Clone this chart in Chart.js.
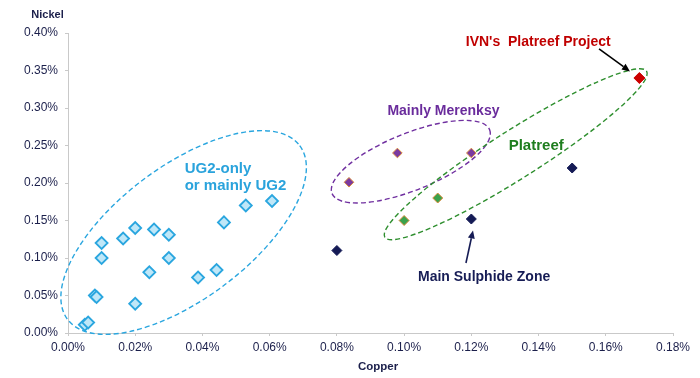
<!DOCTYPE html>
<html>
<head>
<meta charset="utf-8">
<script src="https://cdn.jsdelivr.net/npm/chart.js@4.4.1/dist/chart.umd.min.js"></script>
<style>
  html, body { margin: 0; padding: 0; background: #ffffff; }
  #wrap { width: 700px; height: 378px; }
</style>
</head>
<body>
<div id="wrap"><canvas id="c" width="700" height="378"></canvas></div>
<script>
// ---- Data (copper % on x, nickel % on y) ----
const ug2Cu = [0.005, 0.006, 0.008, 0.0085, 0.010, 0.010, 0.0164, 0.020, 0.020, 0.0256, 0.0242, 0.030, 0.030, 0.0387, 0.0442, 0.0464, 0.0529, 0.0607];
const ug2Ni = [0.011, 0.014, 0.050, 0.048, 0.120, 0.100, 0.126, 0.140, 0.039, 0.138, 0.081, 0.131, 0.100, 0.074, 0.084, 0.1475, 0.170, 0.176];
const merenskyCu = [0.0836, 0.098, 0.120];
const merenskyNi = [0.201, 0.240, 0.240];
const platreefCu = [0.100, 0.110];
const platreefNi = [0.150, 0.180];
const mszCu = [0.080, 0.120, 0.150];
const mszNi = [0.110, 0.152, 0.220];
const ivnCu = [0.170];
const ivnNi = [0.340];

const xTicksMin = 0, xTicksMax = 0.18, xStep = 0.02;
const yTicksMin = 0, yTicksMax = 0.40, yStep = 0.05;

const axisTitleX = "Copper";
const axisTitleY = "Nickel";

// ---- Annotation configuration (data coordinates for anchors) ----
const FONT = "'Liberation Sans', Arial, Helvetica, sans-serif";
const ellipses = [
  { cu: 0.0344, ni: 0.1340, a: 145, b: 66.5, angle: -36.8, color: '#2aa6df' },
  { cu: 0.1020, ni: 0.2284, a: 85, b: 28.4, angle: -22, color: '#7030a0' },
  { cu: 0.1332, ni: 0.2384, a: 155, b: 24, angle: -32.4, color: '#2f8f2f' }
];
const labels = [
  { text: 'UG2-only', cu: 0.0347, ni: 0.2191, align: 'left', size: 15, color: '#2aa3dc' },
  { text: 'or mainly UG2', cu: 0.0347, ni: 0.1968, align: 'left', size: 15, color: '#2aa3dc' },
  { text: 'Mainly Merenksy', cu: 0.1117, ni: 0.2964, align: 'center', size: 14, color: '#6a2c9c' },
  { text: "IVN's  Platreef Project", cu: 0.1399, ni: 0.3875, align: 'center', size: 14, color: '#c00000' },
  { text: 'Platreef', cu: 0.1393, ni: 0.2501, align: 'center', size: 15, color: '#1e7d1e' },
  { text: 'Main Sulphide Zone', cu: 0.1238, ni: 0.0741, align: 'center', size: 14, color: '#161c55' }
];
const arrows = [
  { fromCu: 0.1580, fromNi: 0.3787, toCu: 0.1672, toNi: 0.3488, color: '#000000' },
  { fromCu: 0.1184, fromNi: 0.0933, toCu: 0.1205, toNi: 0.1368, color: '#161c55' }
];

const toPts = (xs, ys) => xs.map((x, i) => ({ x: x, y: ys[i] }));

const annotationPlugin = {
  id: 'annot',
  beforeDatasetsDraw(chart) {
    const { ctx, scales: { x, y } } = chart;
    ctx.save();
    ellipses.forEach(e => {
      const px = x.getPixelForValue(e.cu), py = y.getPixelForValue(e.ni);
      ctx.save();
      ctx.translate(px, py);
      ctx.rotate(e.angle * Math.PI / 180);
      ctx.beginPath();
      ctx.ellipse(0, 0, e.a, e.b, 0, 0, Math.PI * 2);
      ctx.setLineDash([5, 3]);
      ctx.lineWidth = 1.4;
      ctx.strokeStyle = e.color;
      ctx.stroke();
      ctx.restore();
    });
    ctx.restore();
  },
  afterDatasetsDraw(chart) {
    const { ctx, chartArea, scales: { x, y } } = chart;
    ctx.save();
    labels.forEach(l => {
      ctx.font = 'bold ' + l.size + 'px ' + FONT;
      ctx.fillStyle = l.color;
      ctx.textAlign = l.align;
      ctx.textBaseline = 'middle';
      ctx.fillText(l.text, x.getPixelForValue(l.cu), y.getPixelForValue(l.ni));
    });
    arrows.forEach(a => {
      const x1 = x.getPixelForValue(a.fromCu), y1 = y.getPixelForValue(a.fromNi);
      const x2 = x.getPixelForValue(a.toCu), y2 = y.getPixelForValue(a.toNi);
      const ang = Math.atan2(y2 - y1, x2 - x1);
      const hl = 8, hw = 3.5;
      const bx = x2 - hl * Math.cos(ang), by = y2 - hl * Math.sin(ang);
      ctx.strokeStyle = a.color;
      ctx.fillStyle = a.color;
      ctx.lineWidth = 1.6;
      ctx.setLineDash([]);
      ctx.beginPath();
      ctx.moveTo(x1, y1);
      ctx.lineTo(bx, by);
      ctx.stroke();
      ctx.beginPath();
      ctx.moveTo(x2, y2);
      ctx.lineTo(bx + hw * Math.sin(ang), by - hw * Math.cos(ang));
      ctx.lineTo(bx - hw * Math.sin(ang), by + hw * Math.cos(ang));
      ctx.closePath();
      ctx.fill();
    });
    // axis titles
    ctx.fillStyle = '#1b1f4b';
    ctx.textBaseline = 'middle';
    ctx.textAlign = 'center';
    ctx.font = 'bold 11px ' + FONT;
    ctx.fillText(axisTitleY, chartArea.left - 20.5, chartArea.top - 18.3);
    ctx.font = 'bold 11.5px ' + FONT;
    ctx.fillText(axisTitleX, 378, chartArea.bottom + 33.4);
    ctx.restore();
  }
};

const tickColor = '#1b1f4b';
const axisColor = '#c9c9c9';

new Chart(document.getElementById('c'), {
  type: 'scatter',
  data: {
    datasets: [
      { label: 'UG2', data: toPts(ug2Cu, ug2Ni), pointStyle: 'rectRot', pointRadius: 6, borderWidth: 1.8,
        backgroundColor: '#bfe7f8', borderColor: '#2aa6df' },
      { label: 'Merensky', data: toPts(merenskyCu, merenskyNi), pointStyle: 'rectRot', pointRadius: 4.8, borderWidth: 1,
        backgroundColor: '#7a3aa0', borderColor: '#d88a3c' },
      { label: 'Platreef', data: toPts(platreefCu, platreefNi), pointStyle: 'rectRot', pointRadius: 5, borderWidth: 1,
        backgroundColor: '#3aa24c', borderColor: '#d88a3c' },
      { label: 'MSZ', data: toPts(mszCu, mszNi), pointStyle: 'rectRot', pointRadius: 5, borderWidth: 1,
        backgroundColor: '#141a55', borderColor: '#141a55' },
      { label: 'IVN', data: toPts(ivnCu, ivnNi), pointStyle: 'rectRot', pointRadius: 5.5, borderWidth: 1,
        backgroundColor: '#cc0000', borderColor: '#cc0000' }
    ]
  },
  options: {
    responsive: false,
    animation: false,
    devicePixelRatio: 1,
    layout: { padding: { top: 33, right: 27, left: 0, bottom: 0 } },
    plugins: { legend: { display: false }, tooltip: { enabled: false } },
    scales: {
      x: {
        type: 'linear', min: xTicksMin, max: xTicksMax,
        ticks: { stepSize: xStep, callback: v => v.toFixed(2) + '%', color: tickColor,
                 font: { size: 12, family: FONT }, padding: 4, maxRotation: 0 },
        grid: { display: true, drawOnChartArea: false, drawTicks: true, tickLength: 3, color: axisColor },
        border: { display: true, color: axisColor, width: 1 },
        afterFit: s => { s.height = 45; }
      },
      y: {
        type: 'linear', min: yTicksMin, max: yTicksMax,
        ticks: { stepSize: yStep, callback: v => v.toFixed(2) + '%', color: tickColor,
                 font: { size: 12, family: FONT }, padding: 7 },
        grid: { display: true, drawOnChartArea: false, drawTicks: true, tickLength: 3, color: axisColor },
        border: { display: true, color: axisColor, width: 1 },
        afterFit: s => { s.width = 68; }
      }
    }
  },
  plugins: [annotationPlugin]
});
</script>
</body>
</html>
